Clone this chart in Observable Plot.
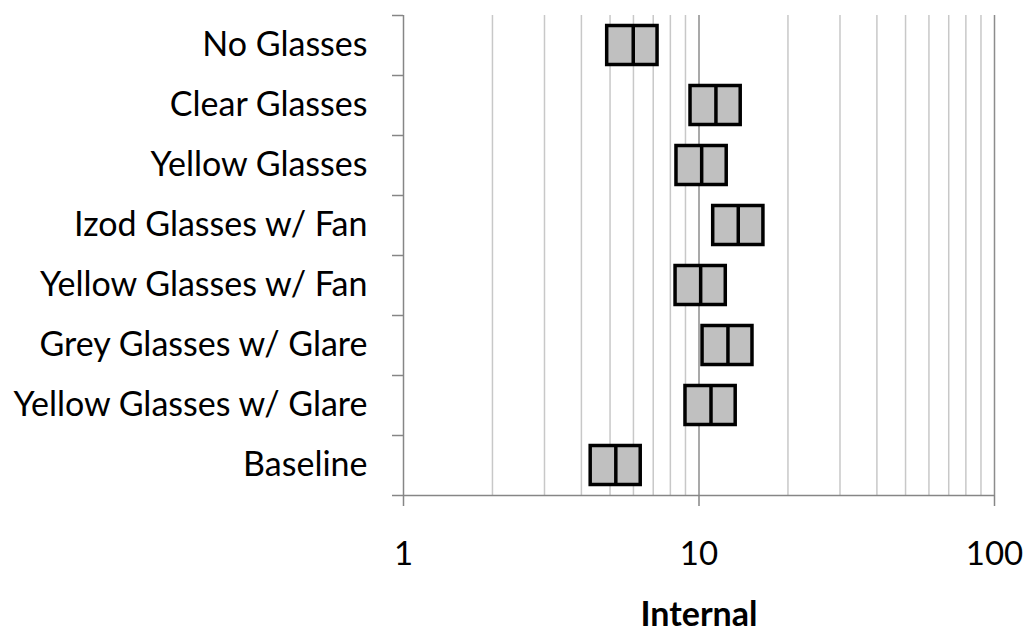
<!DOCTYPE html>
<html>
<head>
<meta charset="utf-8">
<script src="https://cdn.jsdelivr.net/npm/d3@7"></script>
<script src="https://cdn.jsdelivr.net/npm/@observablehq/plot@0.6"></script>
<style>
  html, body { margin: 0; padding: 0; background: #fff; }
</style>
</head>
<body>
<div id="chart"></div>
<script>
// Data (log scale "Internal")
const categories = [
  "No Glasses",
  "Clear Glasses",
  "Yellow Glasses",
  "Izod Glasses w/ Fan",
  "Yellow Glasses w/ Fan",
  "Grey Glasses w/ Glare",
  "Yellow Glasses w/ Glare",
  "Baseline"
];
const lowerValues  = [4.89, 9.36, 8.39, 11.17, 8.33, 10.28, 9.00, 4.30];
const medianValues = [5.99, 11.41, 10.21, 13.58, 10.13, 12.53, 10.98, 5.23];
const upperValues  = [7.24, 13.84, 12.41, 16.52, 12.32, 15.17, 13.31, 6.35];
const majorTicks = [1, 10, 100];
const minorTicks = [2, 3, 4, 5, 6, 7, 8, 9, 20, 30, 40, 50, 60, 70, 80, 90];
const axisTitle = "Internal";

const data = categories.map((name, i) => ({
  name, lo: lowerValues[i], med: medianValues[i], hi: upperValues[i]
}));

const axisColor = "#868686";
const font = "Lato, 'Open Sans', sans-serif";

const chart = Plot.plot({
  width: 1026,
  height: 633,
  marginLeft: 403,
  marginRight: 32,
  marginTop: 15,
  marginBottom: 138,
  style: { fontFamily: font, fontSize: "32px", color: "#000", background: "#fff" },
  x: { type: "log", domain: [1, 100] },
  y: { domain: categories, padding: 0 },
  marks: [
    Plot.gridX(minorTicks, { stroke: "#c8c8c8", strokeOpacity: 1, strokeWidth: 1.5 }),
    Plot.gridX(majorTicks.slice(1), { stroke: "#8c8c8c", strokeOpacity: 1, strokeWidth: 1.5 }),
    Plot.ruleX([majorTicks[0]], { stroke: axisColor, strokeWidth: 1.5 }),
    Plot.ruleY([categories[categories.length - 1]], { dy: 30, stroke: axisColor, strokeWidth: 1.5 }),
    Plot.axisY({ tickSize: 11, tickFormat: () => "", dy: 30, stroke: axisColor, strokeWidth: 1.5, label: null }),
    Plot.axisY([categories[0]], { tickSize: 11, tickFormat: () => "", dy: -30, stroke: axisColor, strokeWidth: 1.5, label: null }),
    Plot.axisY({ tickSize: 0, tickPadding: 36, fontSize: 34, fill: "#000", label: null }),
    Plot.barX(data, {
      x1: "lo", x2: "hi", y: "name",
      fill: "#c0c0c0", stroke: "#000", strokeWidth: 3.5,
      insetTop: 10.5, insetBottom: 10.5
    }),
    Plot.tickX(data, {
      x: "med", y: "name", stroke: "#000", strokeWidth: 3.5,
      insetTop: 10.5, insetBottom: 10.5
    }),
    Plot.axisX(majorTicks, {
      tickSize: 11, tickPadding: 35, stroke: axisColor, strokeWidth: 1.5,
      fill: "#000", fontSize: 33, tickFormat: d => String(d), label: null
    }),
    Plot.text([axisTitle], {
      frameAnchor: "bottom", lineAnchor: "top", dy: 106,
      fontWeight: "bold", fontSize: 34, fill: "#000"
    })
  ]
});
document.getElementById("chart").appendChild(chart);
</script>
</body>
</html>
